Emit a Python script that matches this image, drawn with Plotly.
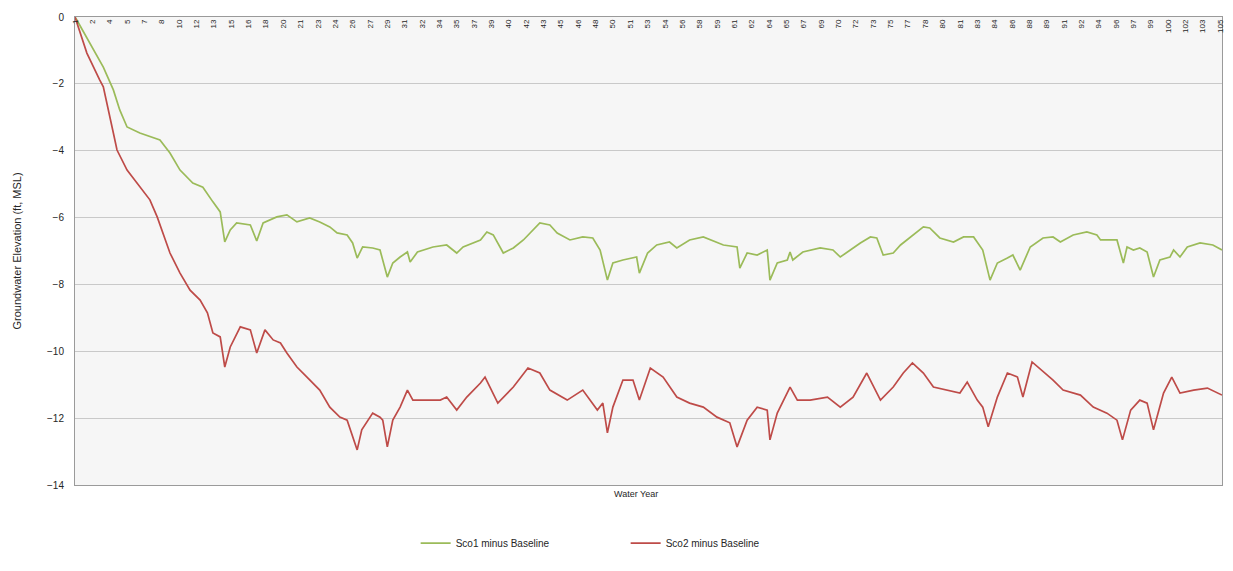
import plotly.graph_objects as go

# month index from the start of the simulation
sco1_month = [0, 2, 31, 42, 49, 57, 71, 85, 93, 104,
              115, 129, 140, 151, 159, 164, 170, 177, 192, 199,
              206, 221, 232, 243, 257, 268, 279, 287, 298, 304,
              309, 315, 326, 334, 342, 348, 356, 364, 367, 375,
              392, 407, 418, 425, 444, 451, 458, 469, 480, 491,
              509, 520, 528, 542, 556, 567, 575, 583, 589, 600,
              615, 618, 627, 637, 651, 659, 673, 688, 703, 710,
              725, 728, 736, 747, 758, 761, 769, 780, 783, 786,
              797, 816, 830, 838, 849, 860, 871, 878, 885, 896,
              904, 918, 929, 936, 947, 962, 973, 984, 994, 1002,
              1010, 1021, 1027, 1035, 1046, 1060, 1071, 1079, 1093, 1108,
              1119, 1123, 1141, 1148, 1152, 1159, 1166, 1174, 1181, 1188,
              1199, 1203, 1210, 1218, 1232, 1246, 1256]
sco1_diff = [0, -0.09, -1.50, -2.18, -2.78, -3.29, -3.47, -3.59, -3.68, -4.07,
             -4.58, -4.97, -5.09, -5.53, -5.83, -6.73, -6.37, -6.16, -6.22, -6.70,
             -6.16, -5.98, -5.92, -6.13, -6.01, -6.13, -6.28, -6.46, -6.52, -6.76,
             -7.21, -6.88, -6.91, -6.97, -7.78, -7.36, -7.18, -7.03, -7.33, -7.03,
             -6.88, -6.82, -7.06, -6.88, -6.67, -6.43, -6.52, -7.06, -6.91, -6.67,
             -6.16, -6.22, -6.46, -6.67, -6.58, -6.61, -6.97, -7.87, -7.36, -7.27,
             -7.18, -7.66, -7.06, -6.82, -6.73, -6.91, -6.67, -6.58, -6.73, -6.82,
             -6.88, -7.51, -7.06, -7.12, -6.97, -7.87, -7.36, -7.27, -7.03, -7.27,
             -7.03, -6.91, -6.97, -7.18, -6.97, -6.76, -6.58, -6.61, -7.12, -7.06,
             -6.82, -6.52, -6.28, -6.31, -6.61, -6.73, -6.58, -6.58, -6.97, -7.87,
             -7.36, -7.21, -7.12, -7.57, -6.88, -6.61, -6.58, -6.73, -6.52, -6.43,
             -6.52, -6.67, -6.67, -7.36, -6.88, -6.97, -6.91, -7.03, -7.78, -7.27,
             -7.18, -6.97, -7.18, -6.88, -6.76, -6.82, -6.97]

sco2_month = [0, 13, 27, 31, 42, 46, 57, 74, 82, 90,
              104, 115, 126, 137, 145, 151, 159, 164, 170, 181,
              192, 199, 208, 217, 225, 232, 243, 254, 268, 279,
              290, 298, 309, 314, 326, 334, 337, 342, 348, 356,
              364, 370, 386, 400, 407, 418, 429, 444, 449, 463,
              480, 496, 509, 520, 539, 556, 572, 578, 583, 589,
              600, 611, 618, 630, 644, 659, 673, 688, 703, 717,
              725, 736, 747, 758, 761, 769, 783, 791, 805, 824,
              838, 852, 867, 882, 896, 907, 917, 929, 940, 955,
              969, 977, 988, 994, 1000, 1010, 1021, 1032, 1038, 1048,
              1060, 1071, 1082, 1101, 1115, 1130, 1141, 1147, 1156, 1166,
              1174, 1181, 1192, 1201, 1210, 1225, 1240, 1256]
sco2_diff = [0, -1.08, -1.88, -2.09, -3.47, -3.98, -4.58, -5.18, -5.47, -5.98,
             -7.06, -7.66, -8.17, -8.47, -8.85, -9.45, -9.57, -10.47, -9.87, -9.27,
             -9.36, -10.05, -9.36, -9.66, -9.75, -10.05, -10.47, -10.77, -11.16, -11.67,
             -11.97, -12.06, -12.95, -12.35, -11.85, -11.97, -12.06, -12.86, -12.06, -11.67,
             -11.16, -11.46, -11.46, -11.46, -11.37, -11.76, -11.37, -10.95, -10.77, -11.55,
             -11.07, -10.50, -10.65, -11.16, -11.46, -11.16, -11.76, -11.55, -12.44, -11.67,
             -10.86, -10.86, -11.46, -10.50, -10.77, -11.37, -11.55, -11.67, -11.97, -12.14,
             -12.86, -12.06, -11.67, -11.76, -12.65, -11.85, -11.07, -11.46, -11.46, -11.37,
             -11.67, -11.37, -10.65, -11.46, -11.07, -10.65, -10.35, -10.65, -11.07, -11.16,
             -11.25, -10.92, -11.46, -11.67, -12.26, -11.37, -10.65, -10.77, -11.37, -10.32,
             -10.59, -10.86, -11.16, -11.31, -11.67, -11.85, -12.06, -12.65, -11.76, -11.46,
             -11.55, -12.35, -11.25, -10.77, -11.25, -11.16, -11.10, -11.31]

# category labels shown every 19 months on the excel axis
year_labels = [1, 2, 4, 5, 7, 8, 10, 12, 13, 15, 16, 18, 20, 21, 23, 24, 26, 27, 29, 31,
               32, 34, 35, 37, 39, 40, 42, 43, 45, 46, 48, 50, 51, 53, 54, 56, 58, 59, 61, 62,
               64, 65, 67, 69, 70, 72, 73, 75, 77, 78, 80, 81, 83, 84, 86, 88, 89, 91, 92, 94,
               96, 97, 99, 100, 102, 103, 105]
label_step = 19

x_range = [0, 1256]
txt = '#262626'
font = dict(family="Liberation Sans, Arial, sans-serif", size=9, color=txt)

fig = go.Figure()
fig.add_trace(go.Scatter(x=sco1_month, y=sco1_diff, mode='lines', name='Sco1 minus Baseline',
                         line=dict(color='#9BBB59', width=1.7)))
fig.add_trace(go.Scatter(x=sco2_month, y=sco2_diff, mode='lines', name='Sco2 minus Baseline',
                         line=dict(color='#BE4B48', width=1.7)))

# page body has an 8px margin, so the figure is a bit smaller than the window
fig.update_layout(
    width=1225, height=563,
    margin=dict(l=67, r=11, t=9, b=86),
    paper_bgcolor='white',
    plot_bgcolor='#f6f6f6',
    font=font,
    showlegend=True,
    legend=dict(orientation='h', x=0.297, xanchor='left', y=-0.124, yanchor='middle',
                font=dict(size=10, color=txt), itemwidth=30,
                entrywidth=165, entrywidthmode='pixels'),
    xaxis=dict(
        range=x_range, showticklabels=False, ticks='',
        showgrid=False, zeroline=False, automargin=False,
        showline=True, linecolor='#9a9a9a', linewidth=1, mirror=True,
    ),
    # label axis: sits on the top edge with its labels hanging into the plot
    xaxis2=dict(
        range=x_range, overlaying='x', matches='x', anchor='free', position=1, side='bottom',
        tickvals=[i * label_step for i in range(len(year_labels))],
        ticktext=[str(v) for v in year_labels],
        tickangle=-90, tickfont=dict(size=8, color=txt), ticks='',
        showgrid=False, zeroline=False, showline=False, automargin=False,
    ),
    yaxis=dict(
        range=[-14, 0], dtick=2, automargin=False,
        showgrid=True, gridcolor='#c9c9c9', gridwidth=1, zeroline=False,
        showline=True, linecolor='#9a9a9a', linewidth=1, mirror=True,
        tickfont=dict(size=10, color=txt), ticks='', ticklabelstandoff=8,
    ),
    annotations=[
        dict(text='Water Year', xref='paper', yref='paper', x=0.489, y=-0.019,
             xanchor='center', yanchor='middle', showarrow=False, font=dict(size=9, color=txt)),
        dict(text='Groundwater Elevation (ft, MSL)', xref='paper', yref='paper',
             x=-0.051, y=0.5, textangle=-90, xanchor='center', yanchor='middle',
             showarrow=False, font=dict(size=11, color=txt)),
    ],
)
# invisible helper trace so the label axis gets drawn
fig.add_trace(go.Scatter(x=[x_range[0]], y=[None], xaxis='x2', showlegend=False, hoverinfo='skip'))

fig.write_html("out.html")
